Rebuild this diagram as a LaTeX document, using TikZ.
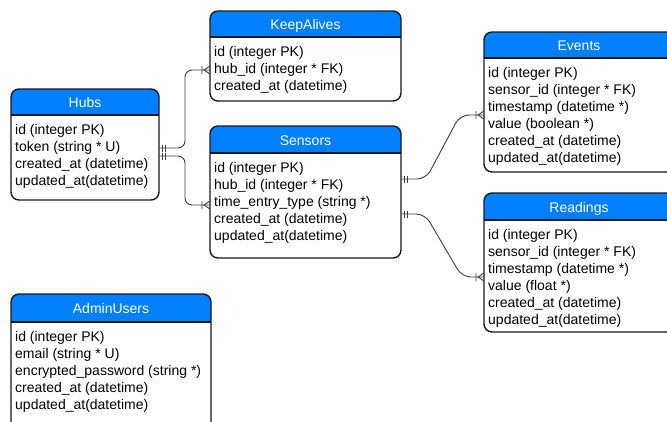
\documentclass[tikz,border=0pt]{standalone}
\usepackage{fontspec}
\setmainfont{Liberation Sans}
\definecolor{headblue}{HTML}{007FFF}
\definecolor{edgeline}{HTML}{1A1A1A}
\definecolor{linkline}{HTML}{3C3C3C}
\tikzset{
  entbox/.style={draw=edgeline, line width=1.4pt, rounded corners=8pt,
    inner sep=0pt, outer sep=0pt, anchor=north west},
  rowtext/.style={anchor=base west, inner sep=0pt,
    font=\fontsize{14}{17}\selectfont, text=black},
  titletext/.style={anchor=base, inner sep=0pt,
    font=\fontsize{14}{17}\selectfont, text=white},
  rel/.style={draw=linkline, line width=0.9pt, rounded corners=7pt},
  relmark/.style={draw=linkline, line width=0.9pt},
}
% \entity{name}{x0}{y0}{x1}{header bottom}{y1}{title}{rows}
\newcommand\entity[8]{%
  \begin{scope}
    \clip (#2,#3) rectangle (#4,#5);
    \fill[headblue, rounded corners=8pt] (#2,#3) rectangle (#4,#6);
  \end{scope}
  \node[entbox, minimum width={(#4-#2)*1pt}, minimum height={(#6-#3)*1pt}]
    (#1) at (#2,#3) {};
  \draw[edgeline, line width=1.4pt] (#2,#5) -- (#4,#5);
  \node[titletext] (#1-t) at ({(#2+#4)/2},{(#3+#5)/2+5.5}) {#7};
  \foreach \r [count=\i from 0] in {#8}
    \node[rowtext] (#1-r\i) at ({#2+4},{#5+19+17*\i}) {\r};
}
% two bars leaving a box edge towards the right
\newcommand\onlyone[2]{%
  \draw[relmark] ({#1+3},{#2-3.5}) -- ({#1+3},{#2+3.5})
                 ({#1+6},{#2-3.5}) -- ({#1+6},{#2+3.5});}
% bar and crow's foot entering a box edge from the left
\newcommand\crowfoot[2]{%
  \draw[relmark] ({#1-8},{#2-4}) -- ({#1-8},{#2+4})
                 (#1,{#2-4}) -- ({#1-6},#2) -- (#1,{#2+4});}
\begin{document}
\begin{tikzpicture}[x=1pt, y=-1pt]
  \useasboundingbox (0,0) rectangle (667,421);
  \clip (0,0) rectangle (667,421);
  \fill[white] (0,0) rectangle (667,421);

  \entity{hubs}{11}{89}{159}{115}{200}{Hubs}
    {id (integer PK), token (string * U), created\_at (datetime), updated\_at(datetime)}
  \entity{keepalives}{210}{11}{401}{37}{101}{KeepAlives}
    {id (integer PK), hub\_id (integer * FK), created\_at (datetime)}
  \entity{sensors}{210}{126}{401}{153}{258}{Sensors}
    {id (integer PK), hub\_id (integer * FK), time\_entry\_type (string *), created\_at (datetime), updated\_at(datetime)}
  \entity{events}{484}{32}{674}{58}{172}{Events}
    {id (integer PK), sensor\_id (integer * FK), timestamp (datetime *), value (boolean *), created\_at (datetime), updated\_at(datetime)}
  \entity{readings}{484}{193}{674}{220}{332}{Readings}
    {id (integer PK), sensor\_id (integer * FK), timestamp (datetime *), value (float *), created\_at (datetime), updated\_at(datetime)}
  \entity{admins}{11}{294}{211}{322}{440}{AdminUsers}
    {id (integer PK), email (string * U), encrypted\_password (string *), created\_at (datetime), updated\_at(datetime)}

  % relationships
  \draw[rel] (hubs.east |- 0,148) -- (185,148) -- (185,70) -- (keepalives.west |- 0,70);
  \onlyone{159}{148} \crowfoot{210}{70}
  \draw[rel] (hubs.east |- 0,156) -- (185,156) -- (185,205) -- (sensors.west |- 0,205);
  \onlyone{159}{156} \crowfoot{210}{205}
  \draw[rel, rounded corners=9pt] (sensors.east |- 0,179) -- (426,179) -- (460,115) -- (events.west |- 0,115);
  \onlyone{401}{179} \crowfoot{484}{115}
  \draw[rel, rounded corners=9pt] (sensors.east |- 0,214) -- (425,214) -- (462,277) -- (readings.west |- 0,277);
  \onlyone{401}{214} \crowfoot{484}{277}
\end{tikzpicture}
\end{document}
